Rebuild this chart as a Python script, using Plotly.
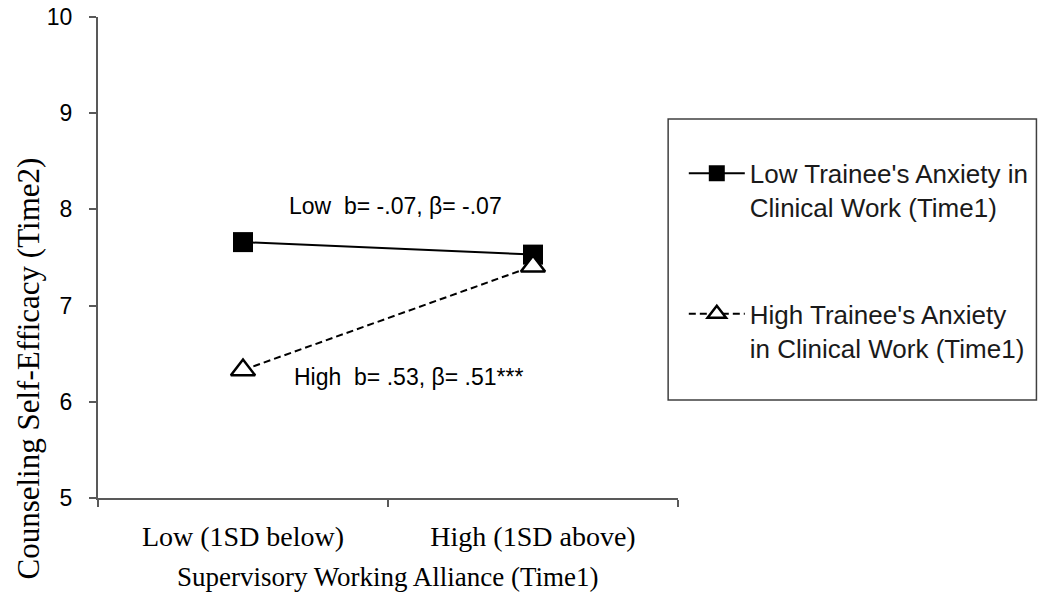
import plotly.graph_objects as go

# 横轴类别 (Supervisory Working Alliance)
CATEGORIES = ["Low (1SD below)", "High (1SD above)"]

# 两条简单斜率线的值 (Counseling Self-Efficacy, Time2)
LOW_ANXIETY = [7.66, 7.53]
HIGH_ANXIETY = [6.33, 7.41]

SERIES_NAMES = [
    "Low Trainee's Anxiety in<br>Clinical Work (Time1)",
    "High Trainee's Anxiety<br>in Clinical Work (Time1)",
]

Y_TICKS = [5, 6, 7, 8, 9, 10]

SANS = "Liberation Sans, Arial, sans-serif"
SERIF = "Liberation Serif, Times New Roman, serif"
AXIS_COLOR = "#595959"

fig = go.Figure()

fig.add_trace(go.Scatter(
    x=CATEGORIES, y=LOW_ANXIETY,
    mode="lines+markers",
    name=SERIES_NAMES[0],
    legendgroup="low",
    line=dict(color="black", width=2),
    marker=dict(symbol="square", size=20, color="black"),
))

fig.add_trace(go.Scatter(
    x=CATEGORIES, y=HIGH_ANXIETY,
    mode="lines+markers",
    name=SERIES_NAMES[1],
    legendgroup="high",
    line=dict(color="black", width=2, dash="7px,4px"),
    marker=dict(symbol="triangle-up", size=21, color="white",
                line=dict(color="black", width=2.5)),
))

# 斜率标注
fig.add_annotation(x=0.15, y=8.04, xref="x", yref="y", xanchor="left", yanchor="middle",
                   text="Low\u00a0\u00a0b= -.07, β= -.07", showarrow=False,
                   font=dict(family=SANS, size=23, color="black"))
fig.add_annotation(x=0.17, y=6.26, xref="x", yref="y", xanchor="left", yanchor="middle",
                   text="High\u00a0\u00a0b= .53, β= .51***", showarrow=False,
                   font=dict(family=SANS, size=23, color="black"))

# 轴标题用注释放置，位置与原图一致
fig.add_annotation(x=-0.12, y=0.27, xref="paper", yref="paper", textangle=-90,
                   xanchor="center", yanchor="middle",
                   text="Counseling Self-Efficacy (Time2)", showarrow=False,
                   font=dict(family=SERIF, size=31, color="black"))
fig.add_annotation(x=0.5, y=-0.164, xref="paper", yref="paper",
                   xanchor="center", yanchor="middle",
                   text="Supervisory Working Alliance (Time1)", showarrow=False,
                   font=dict(family=SERIF, size=27, color="black"))

# 图例外框
fig.add_shape(type="rect", xref="paper", yref="paper",
              x0=0.983, x1=1.618, y0=0.204, y1=0.788,
              line=dict(color="#404040", width=1.5), fillcolor="rgba(0,0,0,0)")

fig.update_layout(
    width=1046, height=608,
    paper_bgcolor="white", plot_bgcolor="white",
    margin=dict(l=98, r=364, t=17, b=110),
    showlegend=True,
    legend=dict(
        x=1.010, y=0.724, xanchor="left", yanchor="top",
        bgcolor="rgba(0,0,0,0)", borderwidth=0,
        font=dict(family=SANS, size=26, color="#1a1a1a"),
        tracegroupgap=70, valign="top", itemwidth=56,
    ),
    xaxis=dict(
        type="category", range=[-0.5, 1.5], automargin=False,
        showline=True, linecolor=AXIS_COLOR, linewidth=2,
        ticks="outside", tickson="boundaries", ticklen=7,
        tickcolor=AXIS_COLOR, tickwidth=1.5,
        showgrid=False, zeroline=False,
        tickfont=dict(family=SERIF, size=28, color="black"),
        ticklabelstandoff=12,
    ),
    yaxis=dict(
        range=[5, 10], tickvals=Y_TICKS, automargin=False,
        showline=True, linecolor=AXIS_COLOR, linewidth=2,
        ticks="outside", ticklen=7, tickcolor=AXIS_COLOR, tickwidth=1.5,
        showgrid=False, zeroline=False,
        tickfont=dict(family=SANS, size=23, color="black"),
        ticklabelstandoff=12,
    ),
)

# 去掉页面 body 默认的 8px 边距，让图正好铺满窗口；隐藏工具栏
fig.write_html("out.html", config={"displayModeBar": False},
               post_script="document.body.style.margin='0';")
